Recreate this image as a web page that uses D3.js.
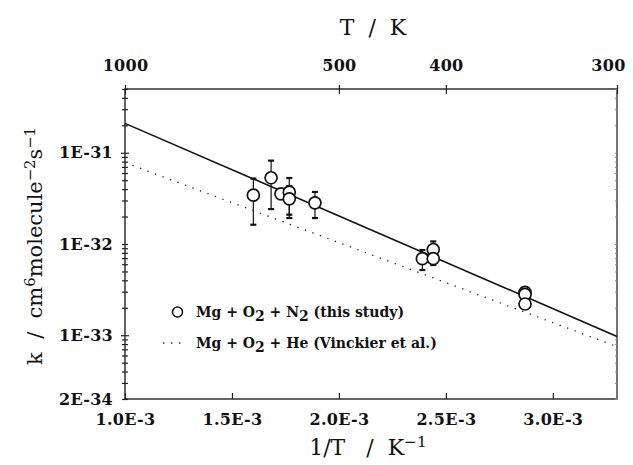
<!DOCTYPE html>
<html>
<head>
<meta charset="utf-8">
<script src="https://cdn.jsdelivr.net/npm/d3@7"></script>
<style>
  body { margin: 0; background: #fff; }
  svg { display: block; font-family: "DejaVu Serif", serif; }
  text { fill: #111; }
</style>
</head>
<body>
<svg id="plot" width="633" height="465"></svg>
<script>
// measured points, 1/T in K^-1 and k in cm6 molecule-2 s-1
const INV_T = [1.600e-3, 1.683e-3, 1.729e-3, 1.768e-3, 1.768e-3, 1.888e-3,
               2.390e-3, 2.441e-3, 2.441e-3, 2.870e-3, 2.870e-3, 2.870e-3];
const K_OBS = [3.43e-32, 5.32e-32, 3.55e-32, 3.70e-32, 3.13e-32, 2.83e-32,
               6.9e-33, 8.7e-33, 6.9e-33, 2.95e-33, 2.80e-33, 2.20e-33];
const K_ERR = [1.8e-32, 2.9e-32, 0, 1.6e-32, 1.2e-32, 0.9e-32,
               1.7e-33, 2.0e-33, 1.0e-33, 0.3e-33, 0, 0.25e-33];

// fitted lines (end points)
const FIT_INV_T = [1.0e-3, 3.3e-3];
const FIT_N2 = [2.1e-31, 9.7e-34];
const FIT_HE = [7.8e-32, 7.5e-34];

const X_TICKS = [1.0e-3, 1.5e-3, 2.0e-3, 2.5e-3, 3.0e-3];
const X_TICK_LABELS = ['1.0E-3', '1.5E-3', '2.0E-3', '2.5E-3', '3.0E-3'];
const Y_TICKS = [1e-31, 1e-32, 1e-33, 2e-34];
const Y_TICK_LABELS = ['1E-31', '1E-32', '1E-33', '2E-34'];
const T_TICKS = [1000, 500, 400, 300];

const LEGEND = ['Mg + O|2| + N|2| (this study)', 'Mg + O|2| + He (Vinckier et al.)'];

const margin = { top: 89, right: 16, bottom: 66, left: 125 };
const W = 633 - margin.left - margin.right;
const H = 465 - margin.top - margin.bottom;

const svg = d3.select('#plot');
const g = svg.append('g').attr('transform', `translate(${margin.left},${margin.top})`);

const x = d3.scaleLinear().domain([1.0e-3, 3.3e-3]).range([0, W]);
const y = d3.scaleLog().domain([2e-34, 5e-31]).range([H, 0]);
const xTop = x.copy().clamp(true);

// frame
g.append('rect').attr('width', W).attr('height', H)
  .attr('fill', 'none').attr('stroke', '#222').attr('stroke-width', 1.4);
g.append('line').attr('x1', W).attr('x2', W).attr('y1', 0).attr('y2', H)
  .attr('stroke', '#777').attr('stroke-width', 1.6);

function styleLabels(sel) {
  sel.selectAll('text').attr('font-size', 16).attr('font-weight', 'bold').attr('letter-spacing', 0.3)
    .attr('font-family', '"DejaVu Serif", serif').attr('fill', '#1a1a1a');
}

// left axis: minor ticks crossing the line
const yMinor = y.ticks();
const leftAx = g.append('g').call(d3.axisLeft(y).tickValues(yMinor).tickSize(0).tickFormat(''));
leftAx.select('.domain').remove();
leftAx.selectAll('.tick line')
  .attr('x1', d => Y_TICKS.includes(d) ? -4 : -3)
  .attr('x2', d => Y_TICKS.includes(d) ? 4 : 3)
  .attr('stroke', '#222').attr('stroke-width', 1.2);

const leftLab = g.append('g').call(d3.axisLeft(y).tickValues(Y_TICKS).tickSize(0).tickPadding(12)
  .tickFormat((d, i) => Y_TICK_LABELS[i]));
leftLab.select('.domain').remove();
styleLabels(leftLab);

// right axis ticks (faint)
const rightAx = g.append('g').attr('transform', `translate(${W},0)`)
  .call(d3.axisRight(y).tickValues(yMinor).tickSize(-2).tickFormat(''));
rightAx.select('.domain').remove();
rightAx.selectAll('.tick line').attr('stroke', '#888');

// bottom axis
const bottomAx = g.append('g').attr('transform', `translate(0,${H})`)
  .call(d3.axisBottom(x).tickValues(X_TICKS).tickSize(-6).tickPadding(15)
    .tickFormat((d, i) => X_TICK_LABELS[i]));
bottomAx.select('.domain').remove();
bottomAx.selectAll('.tick line').attr('stroke', '#222').attr('stroke-width', 1.2);
styleLabels(bottomAx);

// top axis, temperature
const topAx = g.append('g')
  .call(d3.axisTop(xTop).tickValues(T_TICKS.map(t => 1 / t)).tickSize(4).tickPadding(14)
    .tickFormat((d, i) => T_TICKS[i]));
topAx.select('.domain').remove();
topAx.selectAll('.tick line').attr('y2', -4).attr('y1', 5).attr('stroke', '#222').attr('stroke-width', 1.2);
styleLabels(topAx);
// last label sits on the frame corner, keep it inside the page
topAx.selectAll('text').filter((d, i) => i === T_TICKS.length - 1).attr('dx', -9);

// fit lines
const line = d3.line().x(d => x(d[0])).y(d => y(d[1]));
g.append('path').datum(d3.zip(FIT_INV_T, FIT_HE)).attr('d', line)
  .attr('fill', 'none').attr('stroke', '#222').attr('stroke-width', 1.3)
  .attr('stroke-dasharray', '1.3 6.7');
g.append('path').datum(d3.zip(FIT_INV_T, FIT_N2)).attr('d', line)
  .attr('fill', 'none').attr('stroke', '#111').attr('stroke-width', 1.6);

// error bars
const pts = INV_T.map((t, i) => ({ t, k: K_OBS[i], e: K_ERR[i] }));
const bars = g.append('g').selectAll('g').data(pts.filter(d => d.e > 0)).enter().append('g');
bars.append('line')
  .attr('x1', d => x(d.t)).attr('x2', d => x(d.t))
  .attr('y1', d => y(d.k + d.e)).attr('y2', d => y(d.k - d.e))
  .attr('stroke', '#111').attr('stroke-width', 1.2);
bars.selectAll('rect').data(d => [[d.t, d.k + d.e], [d.t, d.k - d.e]]).enter().append('rect')
  .attr('x', d => x(d[0]) - 3).attr('y', d => y(d[1]) - 1)
  .attr('width', 6).attr('height', 2.2).attr('fill', '#111');

// points
g.append('g').selectAll('circle').data(pts).enter().append('circle')
  .attr('cx', d => x(d.t)).attr('cy', d => y(d.k)).attr('r', 6)
  .attr('fill', '#fff').attr('stroke', '#111').attr('stroke-width', 1.7);

// legend
function richText(sel, str, subSize) {
  str.split('|').forEach((part, i) => {
    const isSub = i % 2 === 1;
    sel.append('tspan').text(part)
      .attr('dy', isSub ? 4 : (i > 0 ? -4 : 0))
      .attr('font-size', isSub ? subSize : null);
  });
}
const leg = svg.append('g').attr('font-size', 14).attr('font-weight', 'bold');
leg.append('circle').attr('cx', 177.5).attr('cy', 312).attr('r', 5)
  .attr('fill', '#fff').attr('stroke', '#111').attr('stroke-width', 1.5);
leg.append('text').attr('x', 196).attr('y', 317).call(richText, LEGEND[0], 14);
leg.append('line').attr('x1', 163).attr('x2', 183).attr('y1', 343).attr('y2', 343)
  .attr('stroke', '#222').attr('stroke-width', 1.3).attr('stroke-dasharray', '1.3 6.7');
leg.append('text').attr('x', 196).attr('y', 348).call(richText, LEGEND[1], 14);

// axis titles
const sup = (sel, s) => sel.append('tspan').text(s).attr('font-size', '70%').attr('dy', '-0.5em');

svg.append('text').attr('x', 373).attr('y', 35).attr('text-anchor', 'middle')
  .attr('font-size', 22).style('white-space', 'pre').text('T  /  K');

const xt = svg.append('text').attr('x', 368).attr('y', 455).attr('text-anchor', 'middle')
  .attr('font-size', 22).style('white-space', 'pre');
xt.append('tspan').text('1/T   /  K');
sup(xt, '\u22121');

const yt = svg.append('text').attr('transform', 'translate(42,246) rotate(-90)')
  .attr('text-anchor', 'middle').attr('font-size', 21).style('white-space', 'pre');
yt.append('tspan').text('k  /  cm');
sup(yt, '6');
yt.append('tspan').text('molecule').attr('dy', '0.35em');
sup(yt, '\u22122');
yt.append('tspan').text('s').attr('dy', '0.35em');
sup(yt, '\u22121');
</script>
</body>
</html>
